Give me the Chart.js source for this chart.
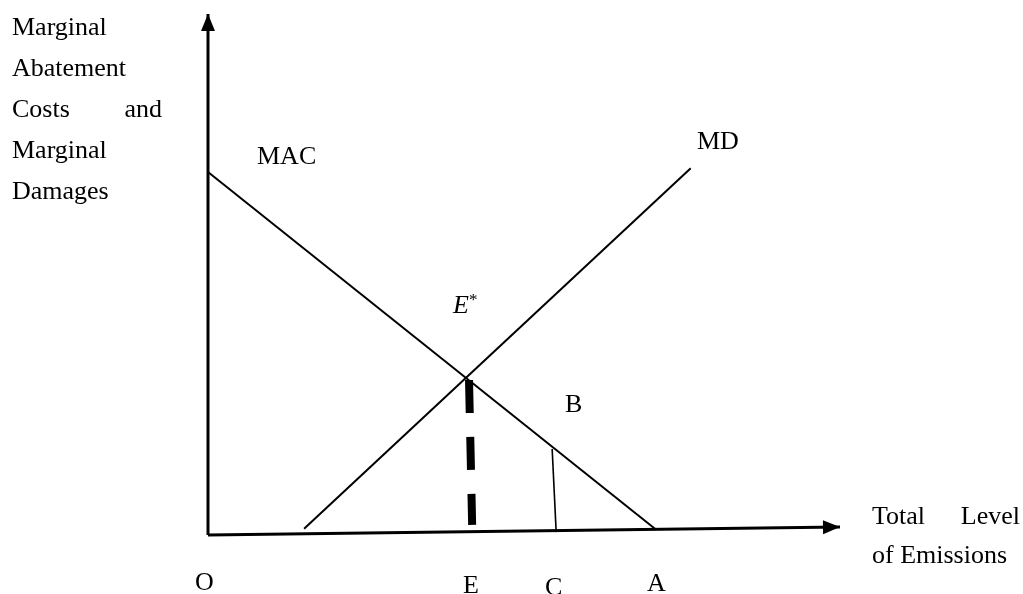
<!DOCTYPE html>
<html>
<head>
<meta charset="utf-8">
<script src="https://cdn.jsdelivr.net/npm/chart.js@4"></script>
<style>
  html, body { margin: 0; padding: 0; background: #fff; }
  #wrap { width: 1023px; height: 594px; }
</style>
</head>
<body>
<div id="wrap"><canvas id="myChart" width="1023" height="594"></canvas></div>
<script>
// emissions on x, cost / damage on y (origin O = 0,0)
var axisX = [0, 14.14], axisXY = [0, 0.22];      // horizontal axis (slightly tilted in the drawing)
var axisYX = [0, 0], axisY = [0, 14.35];          // vertical axis
var macX = [0, 10], macY = [10, 0.17];            // marginal abatement cost
var mdX = [2.15, 10.8], mdY = [0.17, 10.1];       // marginal damages
var eX = [5.84, 5.91], eY = [4.27, 0.28];         // dashed drop from E*
var cX = [7.7, 7.79], cY = [2.37, 0.08];          // thin line at C

function pts(xs, ys) {
  return xs.map(function (x, i) { return { x: x, y: ys[i] }; });
}

var serif = "'Liberation Serif', 'Times New Roman', serif";

// arrowheads on the axis ends + all the text
var drawExtras = {
  id: 'drawExtras',
  afterDatasetsDraw: function (chart) {
    var ctx = chart.ctx;
    chart.data.datasets.forEach(function (ds, i) {
      if (!ds.arrow) return;
      var el = chart.getDatasetMeta(i).data;
      var a = el[el.length - 2], b = el[el.length - 1];
      var ang = Math.atan2(b.y - a.y, b.x - a.x);
      var len = 17, half = 7;
      ctx.save();
      ctx.translate(b.x, b.y);
      ctx.rotate(ang);
      ctx.beginPath();
      ctx.moveTo(0, 0);
      ctx.lineTo(-len, -half);
      ctx.lineTo(-len, half);
      ctx.closePath();
      ctx.fillStyle = '#000';
      ctx.fill();
      ctx.restore();
    });

    ctx.save();
    ctx.fillStyle = '#000';
    ctx.textBaseline = 'alphabetic';
    ctx.font = '26px ' + serif;
    ctx.textAlign = 'left';
    ctx.fillText('Marginal', 12, 35);
    ctx.fillText('Abatement', 12, 76);
    ctx.fillText('Costs', 12, 117);
    ctx.fillText('Marginal', 12, 158);
    ctx.fillText('Damages', 12, 199);
    ctx.textAlign = 'right';
    ctx.fillText('and', 162, 117);

    ctx.textAlign = 'left';
    ctx.fillText('Total', 872, 524);
    ctx.fillText('of Emissions', 872, 563);
    ctx.textAlign = 'right';
    ctx.fillText('Level', 1020, 524);

    ctx.textAlign = 'left';
    ctx.fillText('MAC', 257, 164);
    ctx.fillText('MD', 697, 149);
    ctx.fillText('B', 565, 412);
    ctx.fillText('O', 195, 590);
    ctx.fillText('E', 463, 593);
    ctx.fillText('C', 545, 595);
    ctx.fillText('A', 647, 591);

    ctx.font = 'italic 26px ' + serif;
    ctx.fillText('E', 453, 313);
    ctx.font = '17px ' + serif;
    ctx.fillText('*', 469, 305);
    ctx.restore();
  }
};

var ctx = document.getElementById('myChart');

var myChart = new Chart(ctx, {
  type: 'scatter',
  data: {
    datasets: [
      { data: pts(axisX, axisXY), borderWidth: 3, arrow: true },
      { data: pts(axisYX, axisY), borderWidth: 3, arrow: true },
      { data: pts(macX, macY), borderWidth: 2 },
      { data: pts(mdX, mdY), borderWidth: 2 },
      { data: pts(eX, eY), borderWidth: 8, borderDash: [33, 24], borderCapStyle: 'butt' },
      { data: pts(cX, cY), borderWidth: 1.6 }
    ].map(function (d) {
      d.showLine = true;
      d.borderColor = '#000';
      d.pointRadius = 0;
      d.pointHoverRadius = 0;
      d.clip = false;
      return d;
    })
  },
  options: {
    responsive: false,
    animation: false,
    layout: { padding: { left: 208, right: 183, top: 14, bottom: 59 } },
    plugins: { legend: { display: false }, tooltip: { enabled: false } },
    scales: {
      x: { type: 'linear', min: 0, max: 14.14, display: false },
      y: { type: 'linear', min: 0, max: 14.35, display: false }
    }
  },
  plugins: [drawExtras]
});
</script>
</body>
</html>
